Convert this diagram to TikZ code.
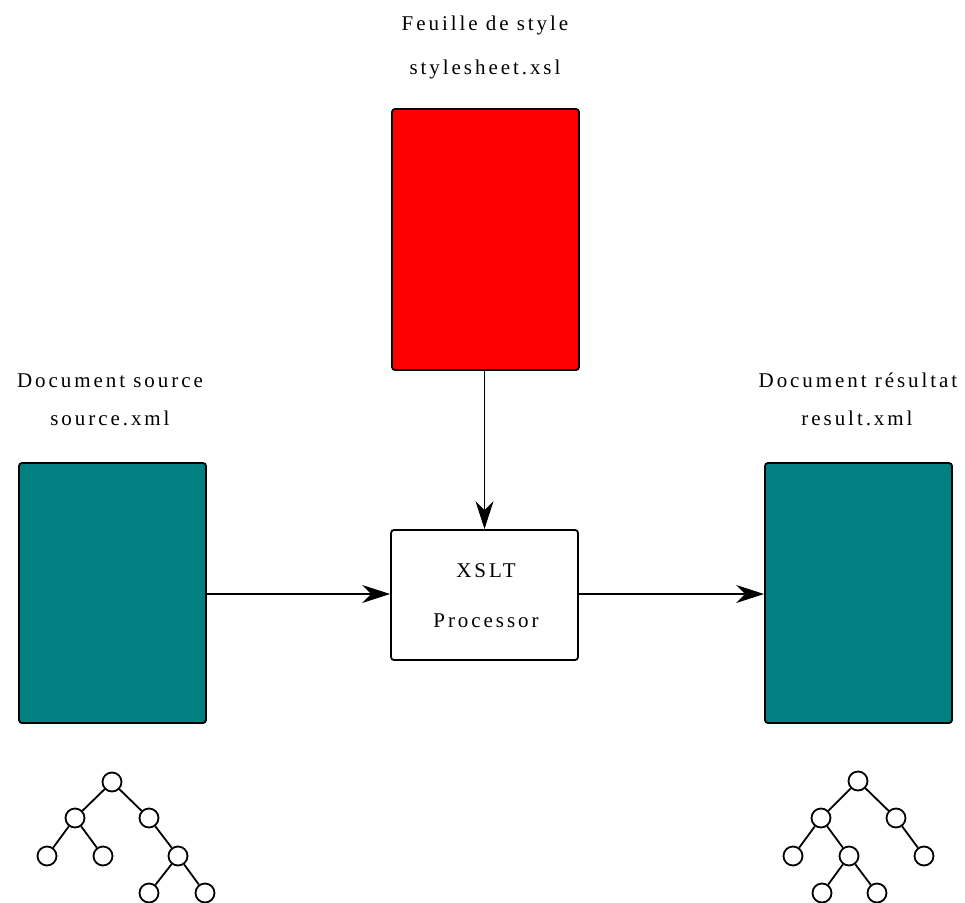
\documentclass[tikz,border=0pt]{standalone}
\usepackage{fontspec}
\setmainfont[LetterSpace=14]{Liberation Serif}
\usetikzlibrary{arrows.meta}
\definecolor{tealbox}{HTML}{008080}
\tikzset{
  doc/.style={draw=black, line width=1.8pt, rounded corners=3pt},
  lbl/.style={anchor=base, inner sep=0pt, font=\rmfamily\fontsize{21}{24}\selectfont},
  conn/.style={line width=1.5pt, -{Stealth[length=28pt, width=18pt, inset=9pt]}},
  tn/.style={circle, draw=black, line width=1.8pt, minimum size=19pt, inner sep=0pt, fill=white},
  te/.style={line width=1.8pt}
}
\begin{document}
\begin{tikzpicture}[x=1pt, y=-1pt]
\useasboundingbox (0,0) rectangle (965,902);
% boxes
\node[doc, fill=red, minimum width=187pt, minimum height=261pt, inner sep=0pt] (xsl) at (485.5,239.5) {};
\node[doc, fill=tealbox, minimum width=187pt, minimum height=260pt, inner sep=0pt] (src) at (112.5,593) {};
\node[doc, fill=tealbox, minimum width=187pt, minimum height=260pt, inner sep=0pt] (res) at (858.5,593) {};
\node[doc, fill=white, minimum width=187pt, minimum height=130pt, inner sep=0pt] (proc) at (484.5,595) {};
% labels
\node[lbl] (t1) at (485,30) {Feuille de style};
\node[lbl] (t2) at (485,74) {stylesheet.xsl};
\node[lbl] (t3) at (110,387) {Document source};
\node[lbl] (t4) at (110,425) {source.xml};
\node[lbl] (t5) at (858,387) {Document résultat};
\node[lbl] (t6) at (857,425) {result.xml};
\node[lbl] (p1) at (486,577) {XSLT};
\node[lbl] (p2) at (486,627) {Processor};
% connectors
\draw[conn] (xsl.south -| proc.north) -- (proc.north);
\draw[conn] (src.east |- 0,594) -- (proc.west |- 0,594);
\draw[conn] (proc.east |- 0,594) -- (res.west |- 0,594);
% left tree
\node[tn] (a0) at (112,782) {};
\node[tn] (a1) at (75,818) {};
\node[tn] (a2) at (149,818) {};
\node[tn] (a3) at (47,856) {};
\node[tn] (a4) at (103,856) {};
\node[tn] (a5) at (178,856) {};
\node[tn] (a6) at (149,893) {};
\node[tn] (a7) at (205,893) {};
\draw[te] (a0) -- (a1) (a0) -- (a2) (a1) -- (a3) (a1) -- (a4) (a2) -- (a5) (a5) -- (a6) (a5) -- (a7);
% right tree
\node[tn] (b0) at (858,781) {};
\node[tn] (b1) at (821,818) {};
\node[tn] (b2) at (896,818) {};
\node[tn] (b3) at (793,856) {};
\node[tn] (b4) at (849,856) {};
\node[tn] (b5) at (924,856) {};
\node[tn] (b6) at (822,893) {};
\node[tn] (b7) at (877,893) {};
\draw[te] (b0) -- (b1) (b0) -- (b2) (b1) -- (b3) (b1) -- (b4) (b2) -- (b5) (b4) -- (b6) (b4) -- (b7);
\end{tikzpicture}
\end{document}
